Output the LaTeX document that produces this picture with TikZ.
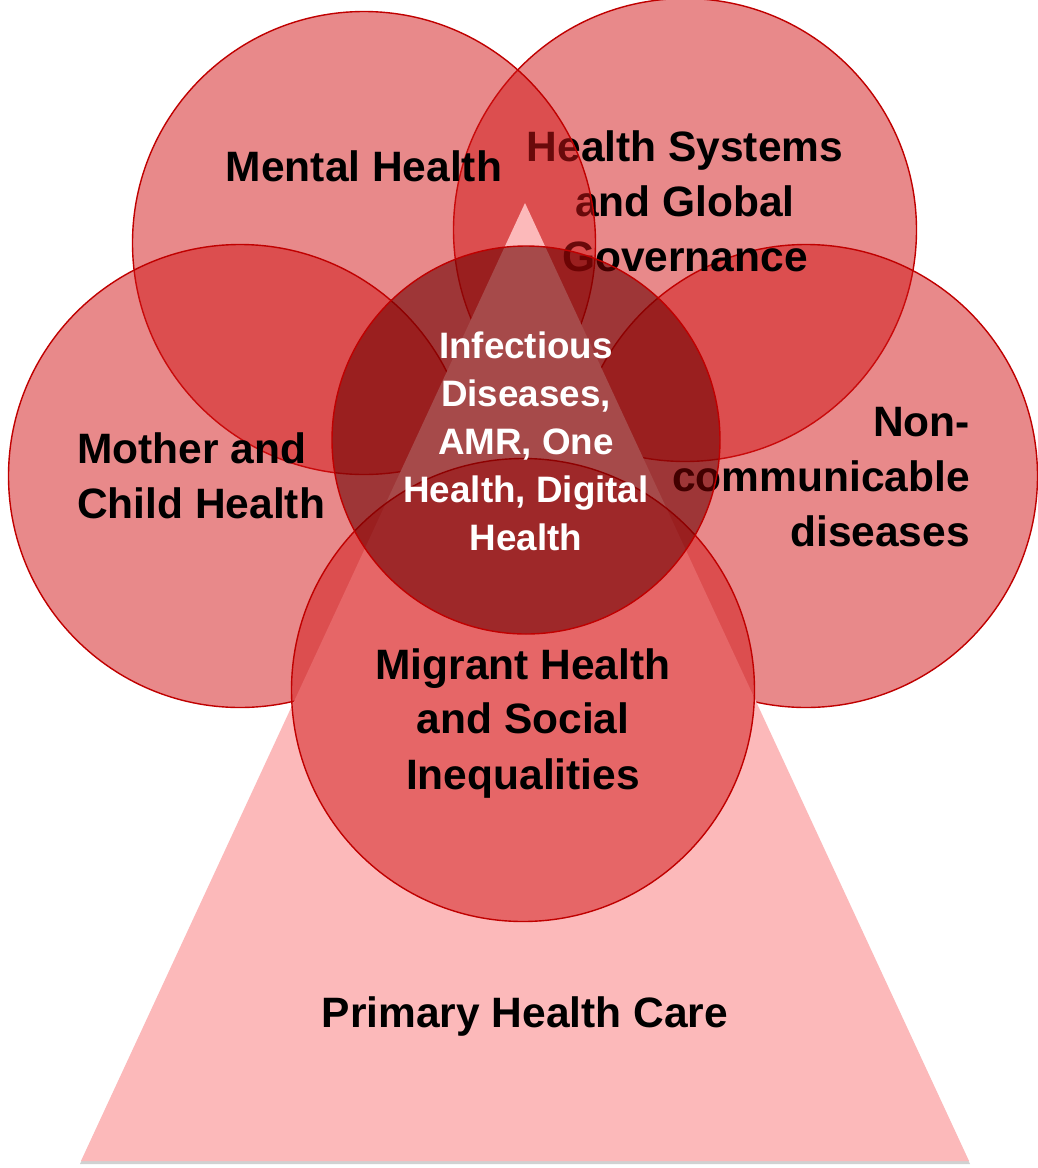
\documentclass[tikz,border=0pt]{standalone}
\usepackage{fontspec}
\setmainfont{Liberation Sans}
\definecolor{circred}{RGB}{210,20,22}
\definecolor{circline}{RGB}{192,0,0}
\definecolor{corered}{RGB}{110,0,0}
\definecolor{tripink}{RGB}{252,185,186}
\begin{document}
\begin{tikzpicture}[x=1pt,y=-1pt,
  ring/.style={circle, draw=circline, line width=1.4pt, fill=circred, fill opacity=0.5, minimum size=463pt, inner sep=0pt, outer sep=0pt},
  core/.style={circle, draw=circline, line width=1.4pt, fill=corered, fill opacity=0.6, minimum size=388pt, inner sep=0pt, outer sep=0pt},
  lab/.style={font=\bfseries\fontsize{42.5}{55}\selectfont, text=black, inner sep=0pt},
  corelab/.style={font=\bfseries\fontsize{36.8}{48}\selectfont, text=white, inner sep=0pt, align=center}]
\useasboundingbox (0,0) rectangle (1037,1168);
\fill[white] (0,0) rectangle (1037,1168);
% outer circles
\node[ring] (systems) at (685,230) {};
\node[ring] (ncd) at (806,476) {};
\node[lab, align=center] (systemslab) at (685,201) {Health Systems\\and Global\\Governance};
\node[lab, align=right, anchor=east] (ncdlab) at (970,477) {Non-\\communicable\\diseases};
\node[ring] (mental) at (364,243) {};
\node[lab, align=center] (mentallab) at (364,166) {Mental Health};
\node[ring] (mother) at (240,476) {};
\node[lab, align=left, anchor=west] (motherlab) at (77,476) {Mother and\\Child Health};
% triangle
\coordinate (apex) at (525,203);
\coordinate (bl) at (81,1161);
\coordinate (br) at (969,1161);
\fill[black, opacity=0.18] ([yshift=-3pt]apex) -- ([yshift=-3pt,xshift=-1pt]bl) -- ([yshift=-3pt,xshift=1pt]br) -- cycle;
\fill[tripink] (apex) -- (bl) -- (br) -- cycle;
\node[lab, align=center] (phclab) at (525,1016) {Primary Health Care};
% migrant circle
\node[ring] (migrant) at (523,690) {};
\node[lab, align=center] (migrantlab) at (523,723) {Migrant Health\\and Social\\Inequalities};
% core circle
\node[core] (core) at (526,440) {};
\node[corelab] (corelab) at (526,441) {Infectious\\Diseases,\\AMR, One\\Health, Digital\\Health};
\end{tikzpicture}
\end{document}
